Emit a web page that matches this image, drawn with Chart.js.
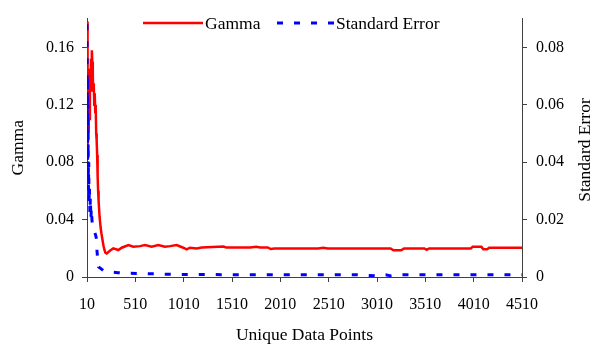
<!DOCTYPE html>
<html>
<head>
<meta charset="utf-8">
<script src="https://cdn.jsdelivr.net/npm/chart.js@4.4.1/dist/chart.umd.min.js"></script>
<style>
  html, body { margin: 0; padding: 0; background: #fff; }
  canvas { display: block; }
</style>
</head>
<body>
<canvas id="gammaChart" width="590" height="344"></canvas>
<script>
// --- data ---
const xTicks = [10, 510, 1010, 1510, 2010, 2510, 3010, 3510, 4010, 4510];
const gammaTicks = [0, 0.04, 0.08, 0.12, 0.16];
const seTicks = [0, 0.02, 0.04, 0.06, 0.08];

// gamma vs number of unique data points
const gammaX = [10, 12, 14, 16, 18, 20, 23, 26, 30, 35, 40, 45, 50, 55, 60, 65, 70, 75, 80, 85,
  90, 95, 100, 105, 110, 115, 120, 125, 130, 140, 150, 160, 170, 180, 190, 200, 214,
  250, 282, 334, 369, 438, 489, 558, 610, 679, 748, 817, 869, 938, 1006, 1041, 1076, 1145,
  1197, 1420, 1450, 1700, 1760, 1800, 1880, 1910, 1950, 2400, 2455, 2500, 3150, 3180, 3260,
  3290, 3500, 3524, 3550, 3980, 4000, 4090, 4110, 4150, 4170, 4510];
const gammaY = [0.178, 0.12, 0.16, 0.10, 0.14, 0.09, 0.13, 0.10, 0.14, 0.11, 0.145, 0.13, 0.152, 0.14, 0.158, 0.15, 0.14, 0.13, 0.135, 0.12,
  0.128, 0.115, 0.12, 0.10, 0.095, 0.085, 0.07, 0.06, 0.053, 0.042, 0.035, 0.03, 0.026, 0.022, 0.019, 0.017, 0.0164,
  0.0185, 0.0199, 0.0188, 0.0204, 0.0222, 0.0211, 0.0215, 0.0222, 0.0211, 0.0222, 0.0211, 0.0215, 0.0222, 0.0204, 0.0192, 0.0204, 0.0199,
  0.0206, 0.0212, 0.0206, 0.0206, 0.021, 0.0206, 0.0206, 0.0195, 0.0199, 0.0199, 0.0203, 0.0199, 0.0199, 0.0186, 0.0186,
  0.0199, 0.0199, 0.019, 0.0199, 0.0199, 0.021, 0.021, 0.0193, 0.0193, 0.0203, 0.0203];

// standard error of gamma
const seX = [10, 12, 14, 16, 18, 20, 22, 25, 28, 31, 35, 40, 45, 50, 55, 62, 70, 80, 90, 100,
  110, 113, 124, 130, 150, 180, 220, 330, 450, 600, 800, 1000, 1500, 2000, 2800, 3000, 3100,
  3150, 3250, 4510];
const seY = [0.088, 0.05, 0.07, 0.04, 0.06, 0.035, 0.05, 0.03, 0.04, 0.025, 0.032, 0.022, 0.028, 0.02, 0.024, 0.0195, 0.018, 0.016, 0.0155, 0.0145,
  0.013, 0.0093, 0.0048, 0.0035, 0.003, 0.0022, 0.0018, 0.0015, 0.0013, 0.0012, 0.001, 0.0009, 0.0008, 0.0008, 0.0008, 0.0004, 0.0008,
  0.0004, 0.0008, 0.0008];

const FAMILY = "'Liberation Serif', 'Times New Roman', serif";
const TICK_FONT = { family: FAMILY, size: 16 };
const TITLE_FONT = { family: FAMILY, size: 17.5 };
const AXIS_COLOR = '#404040';

const toPoints = (xs, ys) => xs.map((x, i) => ({ x: x, y: ys[i] }));
const fixTicks = (vals) => (scale) => { scale.ticks = vals.map(v => ({ value: v })); };
const fmt = (v) => v === 0 ? '0' : v.toFixed(2);

// legend sits inside the plot at the top, right axis title reads bottom-to-top
const overlay = {
  id: 'overlay',
  afterDraw(chart) {
    const ctx = chart.ctx;
    ctx.save();
    ctx.font = TITLE_FONT.size + 'px ' + FAMILY;
    ctx.fillStyle = '#000';
    ctx.textBaseline = 'middle';
    const items = [{ x: 143, w: 60 }, { x: 277, w: 57 }];
    chart.data.datasets.forEach((ds, i) => {
      const it = items[i];
      const y = 23;
      ctx.beginPath();
      ctx.strokeStyle = ds.borderColor;
      ctx.lineWidth = ds.borderWidth;
      ctx.setLineDash(ds.borderDash || []);
      ctx.moveTo(it.x, y);
      ctx.lineTo(it.x + it.w, y);
      ctx.stroke();
      ctx.setLineDash([]);
      ctx.textAlign = 'left';
      ctx.fillText(ds.label, it.x + it.w + 2, y + 1);
    });
    ctx.translate(585, 150);
    ctx.rotate(-Math.PI / 2);
    ctx.textAlign = 'center';
    ctx.fillText('Standard Error', 0, 0);
    ctx.restore();
  }
};

const axisBase = {
  grid: { drawOnChartArea: false, drawTicks: true, tickLength: 5, color: AXIS_COLOR },
  border: { display: true, color: AXIS_COLOR, width: 1 },
};

new Chart(document.getElementById('gammaChart'), {
  type: 'line',
  data: {
    datasets: [
      {
        label: 'Gamma',
        data: toPoints(gammaX, gammaY),
        yAxisID: 'y',
        borderColor: '#ff0000',
        borderWidth: 2.5,
        pointRadius: 0,
        tension: 0,
        order: 2
      },
      {
        label: 'Standard Error',
        data: toPoints(seX, seY),
        yAxisID: 'y1',
        borderColor: '#0000ff',
        borderWidth: 3,
        borderDash: [6, 11],
        pointRadius: 0,
        tension: 0,
        order: 1
      }
    ]
  },
  options: {
    responsive: false,
    animation: false,
    devicePixelRatio: 1,
    layout: { padding: { top: 16, left: 0, right: 0, bottom: 0 } },
    plugins: { legend: { display: false }, tooltip: { enabled: false } },
    scales: {
      x: {
        ...axisBase,
        type: 'linear',
        min: 10,
        max: 4510,
        afterBuildTicks: fixTicks(xTicks),
        afterFit: (s) => { s.height = 67; },
        ticks: { autoSkip: false, maxRotation: 0, padding: 13, color: '#000', font: TICK_FONT, callback: (v) => String(v) },
        title: { display: true, text: 'Unique Data Points', color: '#000', font: TITLE_FONT, padding: { top: 0, bottom: -2 } }
      },
      y: {
        ...axisBase,
        position: 'left',
        min: 0,
        max: 0.18,
        afterBuildTicks: fixTicks(gammaTicks),
        afterFit: (s) => { s.width = 87; },
        ticks: { padding: 8, color: '#000', font: TICK_FONT, callback: fmt },
        title: { display: true, text: 'Gamma', color: '#000', font: TITLE_FONT, padding: { top: 8, bottom: 0 } }
      },
      y1: {
        ...axisBase,
        position: 'right',
        min: 0,
        max: 0.09,
        afterBuildTicks: fixTicks(seTicks),
        afterFit: (s) => { s.width = 68; },
        ticks: { padding: 9, color: '#000', font: TICK_FONT, callback: fmt }
      }
    }
  },
  plugins: [overlay]
});
</script>
</body>
</html>
